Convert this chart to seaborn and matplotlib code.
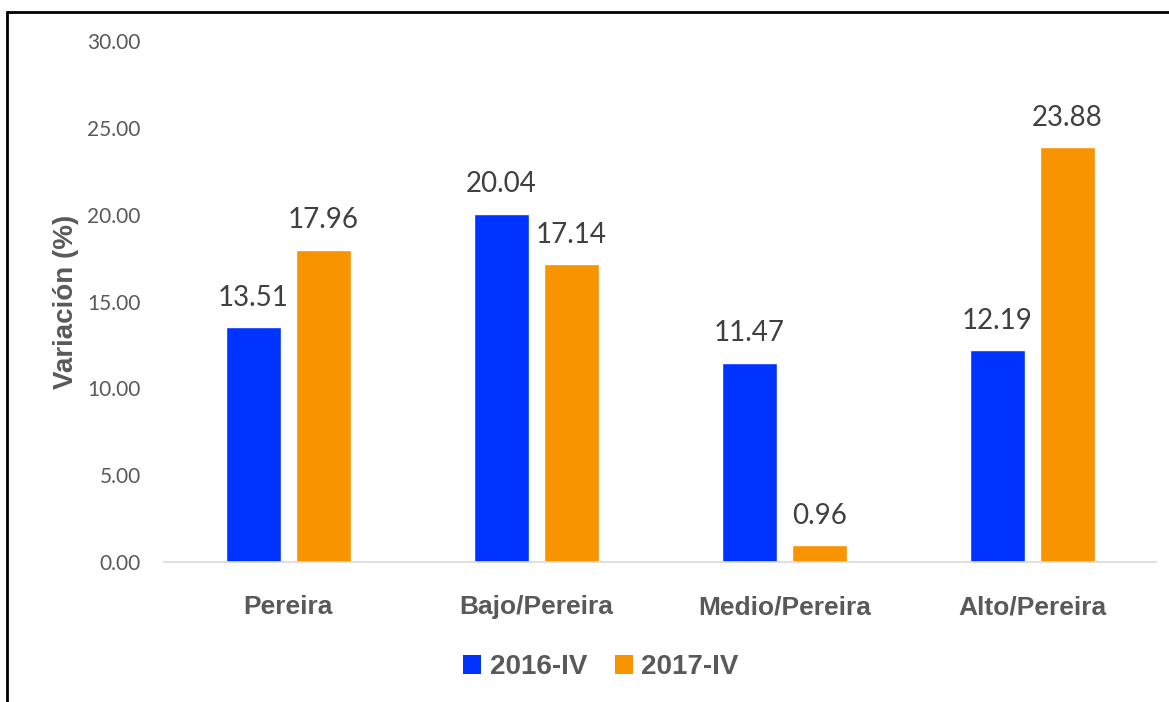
import matplotlib
matplotlib.use("Agg")
import matplotlib.pyplot as plt
from matplotlib.lines import Line2D
from matplotlib.patches import Patch
import seaborn as sns
import pandas as pd

categories = ["Pereira", "Bajo/Pereira", "Medio/Pereira", "Alto/Pereira"]
series_names = ["2016-IV", "2017-IV"]
values_2016 = [13.51, 20.04, 11.47, 12.19]
values_2017 = [17.96, 17.14, 0.96, 23.88]
yticks = [0, 5, 10, 15, 20, 25, 30]

colors = ["#0033FF", "#F79400"]

sns.set_theme(style="white")
plt.rcParams["font.family"] = ["Lato", "DejaVu Sans"]
BOLD = ["Liberation Sans", "DejaVu Sans"]

df = pd.DataFrame({
    "cat": categories * 2,
    "serie": [series_names[0]] * 4 + [series_names[1]] * 4,
    "val": values_2016 + values_2017,
})

fig = plt.figure(figsize=(11.69, 7.02), dpi=100)
ax = fig.add_axes([0.1407, 0.1994, 0.989 - 0.1407, 0.9416 - 0.1994])

sns.barplot(data=df, x="cat", y="val", hue="serie", palette=colors,
            width=0.565, gap=0.214, ax=ax, legend=False, saturation=1,
            errorbar=None)

for container in ax.containers:
    ax.bar_label(container, labels=[f"{v:.2f}" for v in container.datavalues],
                 padding=12, fontsize=20, color="#404040")

ax.set_xlim(-0.5, 3.5)
ax.set_ylim(0, 30)
ax.set_yticks(yticks)
ax.set_yticklabels([f"{t:.2f}" for t in yticks], fontsize=15, color="#595959")
ax.tick_params(axis="y", length=0, pad=17)
ax.tick_params(axis="x", length=0, pad=24)
for lbl in ax.get_xticklabels():
    lbl.set_fontsize(19)
    lbl.set_fontweight("bold")
    lbl.set_family(BOLD)
    lbl.set_color("#595959")
ax.set_xlabel("")
ax.set_ylabel("Variación (%)", fontsize=20, fontweight="bold", color="#595959",
              labelpad=6, family=BOLD)

for s in ["top", "right", "left"]:
    ax.spines[s].set_visible(False)
ax.spines["bottom"].set_color("#D9D9D9")
ax.spines["bottom"].set_linewidth(1.2)

handles = [Patch(facecolor=c, edgecolor="none") for c in colors]
fig.legend(handles, series_names, loc="center", bbox_to_anchor=(601 / 1169, 1 - 667 / 702),
           ncol=2, frameon=False, prop={"size": 20, "weight": "bold", "family": BOLD},
           labelcolor="#595959", handlelength=0.65, handleheight=0.65,
           handletextpad=0.3, columnspacing=1.0)

# outer border (left and top)
fig.add_artist(Line2D([7 / 1169, 7 / 1169], [0, 1 - 12 / 702], color="black", lw=2,
                      transform=fig.transFigure))
fig.add_artist(Line2D([7 / 1169, 1], [1 - 12 / 702, 1 - 12 / 702], color="black", lw=2,
                      transform=fig.transFigure))

fig.savefig("out.png", dpi=100)
